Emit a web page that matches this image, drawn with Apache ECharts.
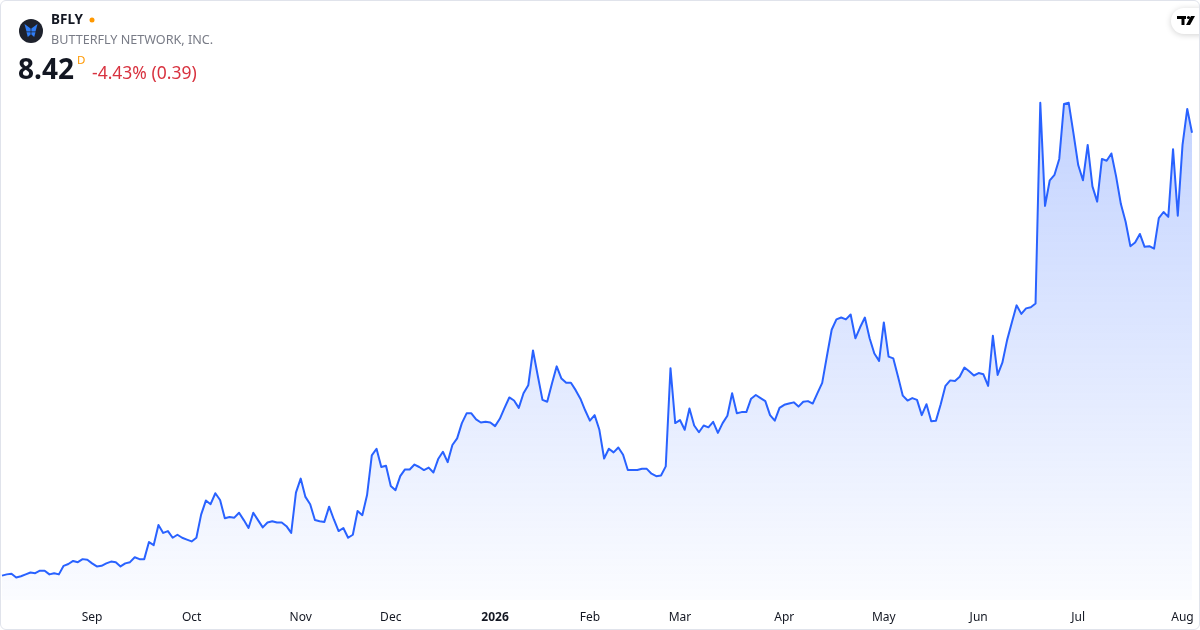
<!DOCTYPE html>
<html>
<head>
<meta charset="utf-8">
<script src="https://cdn.jsdelivr.net/npm/echarts@6/dist/echarts.min.js"></script>
<style>
  html, body { margin: 0; padding: 0; background: #fff; }
  #chart { position: absolute; left: 0; top: 0; width: 1200px; height: 630px; }
  #frame { position: absolute; left: 0; top: 0; width: 1200px; height: 630px; box-sizing: border-box;
           border: 1px solid #e0e3eb; border-radius: 6px; pointer-events: none; }
</style>
</head>
<body>
<div id="chart"></div>
<div id="frame"></div>
<script>
// trading calendar
const startDate = '2025-08-05'
const endDate = '2026-08-05'
const holidays = ['2025-09-01', '2025-11-27', '2025-12-25', '2026-01-01', '2026-01-19',
  '2026-02-16', '2026-04-03', '2026-05-25', '2026-06-19', '2026-07-03']

// month tick labels, in order of the month starts after the first date
const monthLabels = ['Sep', 'Oct', 'Nov', 'Dec', '2026', 'Feb', 'Mar', 'Apr', 'May', 'Jun', 'Jul', 'Aug']

// daily closes, Aug 2025 - Nov 2025
const closesA = [
  1.16, 1.18, 1.19, 1.13, 1.15, 1.18, 1.21, 1.20, 1.24, 1.24,
  1.18, 1.20, 1.18, 1.32, 1.35, 1.40, 1.38, 1.43, 1.42, 1.36,
  1.31, 1.32, 1.36, 1.39, 1.38, 1.31, 1.36, 1.38, 1.46, 1.43,
  1.43, 1.71, 1.66, 1.99, 1.86, 1.89, 1.78, 1.83, 1.78, 1.75,
  1.72, 1.78, 2.16, 2.39, 2.33, 2.51, 2.40, 2.10, 2.12, 2.11,
  2.19, 2.07, 1.94, 2.19, 2.07, 1.95, 2.03, 2.05, 2.03, 2.03,
  1.97, 1.86, 2.52, 2.75, 2.45, 2.33, 2.07, 2.05, 2.04, 2.29,
  2.08, 1.89, 1.94, 1.78, 1.83, 2.22, 2.15, 2.48, 3.13, 3.24,
  2.94, 2.96, 2.63, 2.56
]
// Dec 2025 - Mar 2026
const closesB = [
  2.79, 2.90, 2.90, 2.98, 2.94, 2.89, 2.93, 2.85, 3.07, 3.19,
  3.02, 3.30, 3.41, 3.66, 3.82, 3.82, 3.72, 3.67, 3.68, 3.67,
  3.61, 3.73, 3.91, 4.08, 4.03, 3.91, 4.15, 4.28, 4.85, 4.44,
  4.04, 4.01, 4.31, 4.59, 4.39, 4.32, 4.32, 4.20, 4.06, 3.87,
  3.70, 3.79, 3.55, 3.08, 3.24, 3.18, 3.26, 3.14, 2.89, 2.89,
  2.89, 2.91, 2.91, 2.83, 2.79, 2.80, 2.95, 4.56, 3.66, 3.71,
  3.55, 3.90, 3.62, 3.51, 3.62, 3.59, 3.68, 3.50, 3.66, 3.78,
  4.15, 3.82, 3.84, 3.84, 4.06, 4.12, 4.07, 4.02, 3.79, 3.70,
  3.91, 3.96, 3.98, 4.00, 3.93
]
// Apr 2026 - Aug 2026
const closesC = [
  4.01, 4.02, 3.98, 4.15, 4.32, 4.76, 5.19, 5.36, 5.39, 5.36,
  5.44, 5.05, 5.23, 5.39, 5.05, 4.80, 4.68, 5.31, 4.75, 4.72,
  4.42, 4.11, 4.03, 4.07, 4.04, 3.79, 3.97, 3.69, 3.70, 3.97,
  4.27, 4.36, 4.35, 4.42, 4.57, 4.51, 4.44, 4.48, 4.46, 4.27,
  5.09, 4.45, 4.65, 5.02, 5.31, 5.59, 5.45, 5.54, 5.56, 5.62,
  8.91, 7.22, 7.64, 7.73, 7.99, 8.89, 8.91, 8.41, 7.89, 7.64,
  8.22, 7.54, 7.29, 7.99, 7.96, 8.08, 7.70, 7.25, 6.96, 6.56,
  6.62, 6.76, 6.55, 6.56, 6.52, 7.02, 7.12, 7.04, 8.15, 7.06,
  8.22, 8.81, 8.42
]
const closes = closesA.concat(closesB, closesC)

// build trading days
const days = []
for (let d = new Date(startDate + 'T00:00:00Z'); d <= new Date(endDate + 'T00:00:00Z'); d.setUTCDate(d.getUTCDate() + 1)) {
  const wd = d.getUTCDay()
  const s = d.toISOString().slice(0, 10)
  if (wd === 0 || wd === 6 || holidays.includes(s)) continue
  days.push(s)
}

// first trading day of each month -> label
const tickAt = {}
let m = 0
for (let i = 1; i < days.length; i++) {
  if (days[i].slice(0, 7) !== days[i - 1].slice(0, 7)) {
    tickAt[i] = monthLabels[m++]
  }
}

const font = '"Noto Sans", "Open Sans", sans-serif'
const blue = '#2f7df6'
const chart = echarts.init(document.getElementById('chart'))
chart.setOption({
  animation: false,
  grid: { left: 2, right: 8, top: 90, bottom: 30 },
  xAxis: {
    type: 'category',
    data: days,
    boundaryGap: false,
    axisLine: { show: false },
    axisTick: { show: false },
    splitLine: { show: false },
    axisLabel: {
      interval: (i) => tickAt[i] !== undefined,
      formatter: (v, i) => tickAt[i] === '2026' ? '{b|2026}' : tickAt[i],
      margin: 12,
      color: '#131722',
      fontSize: 12,
      fontFamily: font,
      rich: { b: { fontWeight: 'bold', fontSize: 12, color: '#131722', fontFamily: font } }
    }
  },
  yAxis: {
    type: 'value',
    min: 0.76,
    max: 9.12,
    show: false
  },
  series: [{
    type: 'line',
    data: closes,
    symbol: 'none',
    lineStyle: { color: '#2962ff', width: 2, join: 'round' },
    areaStyle: {
      opacity: 1,
      color: new echarts.graphic.LinearGradient(0, 0, 0, 1, [
        { offset: 0, color: 'rgba(41,98,255,0.28)' },
        { offset: 1, color: 'rgba(41,98,255,0.02)' }
      ])
    }
  }],
  graphic: [
    { type: 'circle', shape: { cx: 31, cy: 31, r: 12 }, style: { fill: '#1e222d' } },
    { type: 'polygon', shape: { points: [[24.5, 24], [30.6, 28.5], [30.6, 31.5], [26.5, 31.5]] }, style: { fill: blue } },
    { type: 'polygon', shape: { points: [[37.5, 24], [31.4, 28.5], [31.4, 31.5], [35.5, 31.5]] }, style: { fill: blue } },
    { type: 'polygon', shape: { points: [[26.5, 32.3], [30.6, 32.3], [30.6, 34.5], [27.8, 37]] }, style: { fill: blue } },
    { type: 'polygon', shape: { points: [[35.5, 32.3], [31.4, 32.3], [31.4, 34.5], [34.2, 37]] }, style: { fill: blue } },
    { type: 'text', x: 51, y: 20, style: { text: 'BFLY', font: 'bold 13.5px ' + font, fill: '#131722', verticalAlign: 'middle' } },
    { type: 'circle', shape: { cx: 92, cy: 20, r: 2.5 }, style: { fill: '#ff9800' } },
    { type: 'text', x: 51, y: 40, style: { text: 'BUTTERFLY NETWORK, INC.', font: '12.6px ' + font, fill: '#787b86', verticalAlign: 'middle' } },
    { type: 'text', x: 18, y: 71, style: { text: '8.42', font: 'bold 28px ' + font, fill: '#131722', verticalAlign: 'middle' } },
    { type: 'text', x: 77, y: 61, style: { text: 'D', font: '11.5px ' + font, fill: '#ff9800', verticalAlign: 'middle' } },
    { type: 'text', x: 92, y: 74, style: { text: '-4.43% (0.39)', font: '17.5px ' + font, fill: '#d8323f', verticalAlign: 'middle' } },
    { type: 'rect', shape: { x: 1171, y: 8, width: 44, height: 26, r: 13 },
      style: { fill: '#fff', shadowBlur: 6, shadowColor: 'rgba(0,0,0,0.18)', shadowOffsetY: 1 } },
    { type: 'polygon', shape: { points: [[1177, 16], [1186, 16], [1186, 19], [1184.5, 19], [1184.5, 25], [1181.5, 25], [1181.5, 19], [1177, 19]] }, style: { fill: '#000' } },
    { type: 'circle', shape: { cx: 1188.5, cy: 17.5, r: 1.6 }, style: { fill: '#000' } },
    { type: 'polygon', shape: { points: [[1191, 16], [1195, 16], [1190, 25], [1186, 25]] }, style: { fill: '#000' } }
  ]
})
</script>
</body>
</html>
